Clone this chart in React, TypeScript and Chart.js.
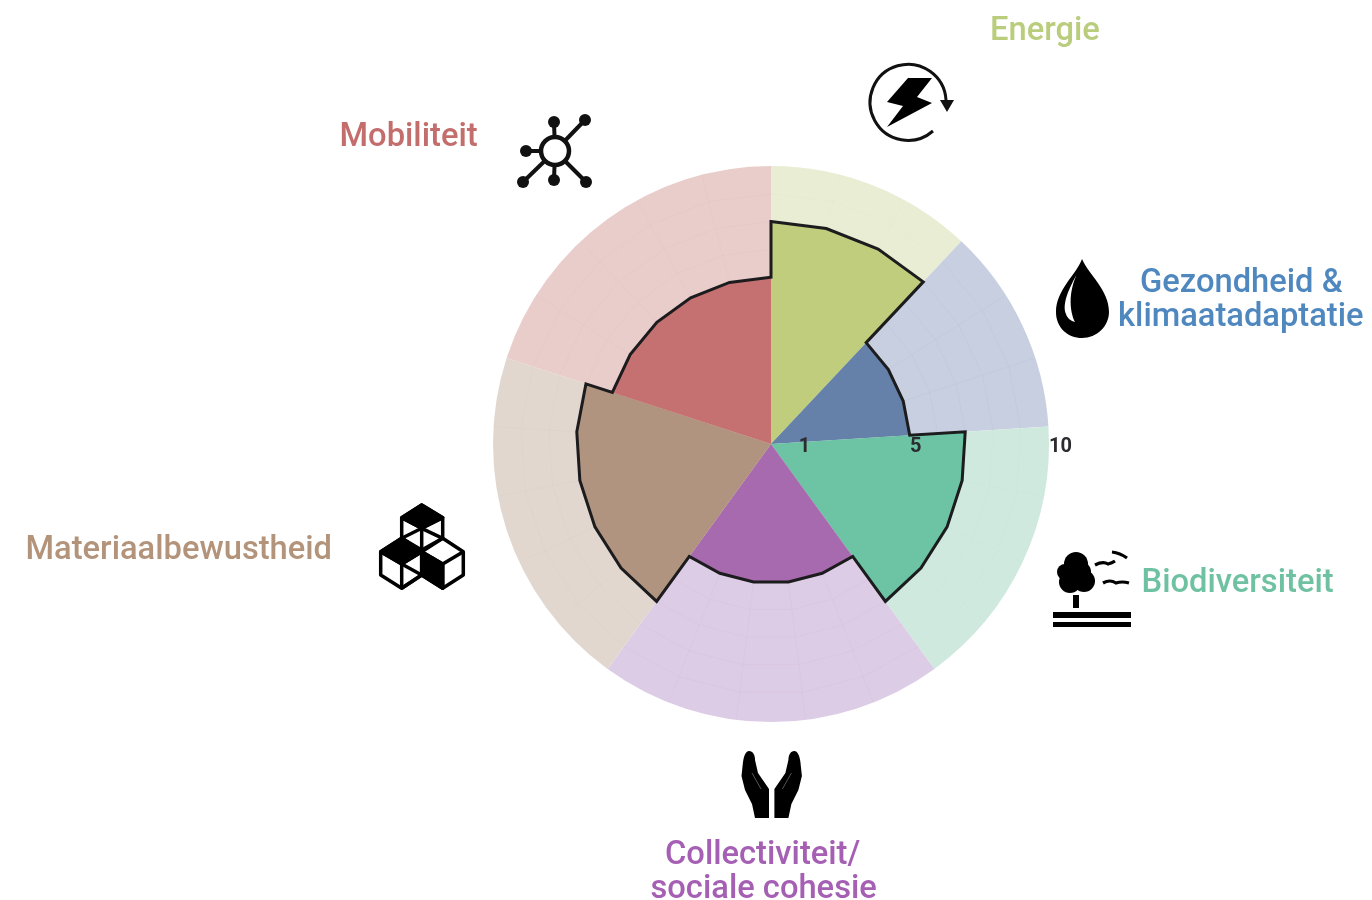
import React, { useEffect, useRef } from "react";
import { Chart, registerables } from "chart.js";

Chart.register(...registerables);

const categories = ["Energie", "Gezondheid & klimaatadaptatie", "Biodiversiteit", "Collectiviteit/sociale cohesie", "Materiaalbewustheid", "Mobiliteit"];
const scores = [8, 5, 7, 5, 7, 6];
const fullScores = [10, 10, 10, 10, 10, 10];
const sectorAngles = [43.2, 43.2, 57.6, 72, 72, 72];
const sectorFacets = [3, 3, 4, 5, 5, 5];
const scoreColors = ["#bfcd7c", "#6581aa", "#6cc4a4", "#a76aae", "#b1947f", "#c67171"];
const paleColors = ["#e9edd3", "#c7cfe0", "#d0e9df", "#ddcce5", "#e1d7cf", "#e9cdcb"];
const ringValues = [1, 2, 3, 4, 5, 6, 7, 8, 9];
const tickLabels = [1, 5, 10];

const labelLines = [
  { text: "Energie", color: "#b9cd7d", x: 990, y: 39.5 },
  { text: "Gezondheid &", color: "#4f87bf", x: 1140, y: 292 },
  { text: "klimaatadaptatie", color: "#4f87bf", x: 1118, y: 326 },
  { text: "Biodiversiteit", color: "#6fc2a1", x: 1141.5, y: 591.5 },
  { text: "Collectiviteit/", color: "#a560b4", x: 665, y: 863.5 },
  { text: "sociale cohesie", color: "#a560b4", x: 650.5, y: 897.5 },
  { text: "Materiaalbewustheid", color: "#b3947b", x: 25.5, y: 559 },
  { text: "Mobiliteit", color: "#c46d6d", x: 339.5, y: 146 },
];

const pt = (cx: number, cy: number, r: number, a: number) => [cx + r * Math.cos(a), cy + r * Math.sin(a)];

const facetPlugin = {
  id: "facets",
  beforeDatasetDraw(chart: any, args: any) {
    if (args.index !== 0) return;
    const { ctx } = chart;
    const scale = chart.scales.r;
    const els = args.meta.data;
    // faint faceted web on the pale sectors
    ctx.save();
    ctx.lineWidth = 1;
    els.forEach((el: any, i: number) => {
      const n = sectorFacets[i];
      const step = (el.endAngle - el.startAngle) / n;
      ctx.strokeStyle = scoreColors[i] + "0d";
      ctx.beginPath();
      ringValues.forEach((v) => {
        const r = scale.getDistanceFromCenterForValue(v);
        for (let k = 0; k <= n; k++) {
          const [x, y] = pt(el.x, el.y, r, el.startAngle + k * step);
          k === 0 ? ctx.moveTo(x, y) : ctx.lineTo(x, y);
        }
      });
      for (let k = 1; k < n; k++) {
        const a = el.startAngle + k * step;
        const [x0, y0] = pt(el.x, el.y, 0, a);
        const [x1, y1] = pt(el.x, el.y, scale.getDistanceFromCenterForValue(10), a);
        ctx.moveTo(x0, y0);
        ctx.lineTo(x1, y1);
      }
      ctx.stroke();
    });
    ctx.restore();
    // clip the score sectors to their faceted silhouette
    ctx.save();
    ctx.beginPath();
    tracePolygon(ctx, els);
    ctx.clip();
  },
  afterDatasetDraw(chart: any, args: any) {
    if (args.index !== 0) return;
    const { ctx } = chart;
    ctx.restore();
    ctx.save();
    ctx.beginPath();
    tracePolygon(ctx, args.meta.data);
    ctx.lineWidth = 3;
    ctx.lineJoin = "miter";
    ctx.strokeStyle = "#1c1c1e";
    ctx.stroke();
    ctx.restore();
  },
  afterDraw(chart: any) {
    const { ctx } = chart;
    const scale = chart.scales.r;
    ctx.save();
    ctx.textBaseline = "alphabetic";
    ctx.textAlign = "left";
    ctx.font = "500 32.7px Roboto";
    labelLines.forEach((l) => {
      ctx.fillStyle = l.color;
      ctx.fillText(l.text, l.x, l.y);
    });
    ctx.font = "700 20px Roboto";
    ctx.fillStyle = "#2c2c30";
    tickLabels.forEach((v) => {
      ctx.fillText(String(v), scale.xCenter + scale.getDistanceFromCenterForValue(v), 452);
    });
    ctx.restore();
  },
};

function tracePolygon(ctx: any, els: any[]) {
  els.forEach((el: any, i: number) => {
    const n = sectorFacets[i];
    const step = (el.endAngle - el.startAngle) / n;
    for (let k = 0; k <= n; k++) {
      const [x, y] = pt(el.x, el.y, el.outerRadius, el.startAngle + k * step);
      i === 0 && k === 0 ? ctx.moveTo(x, y) : ctx.lineTo(x, y);
    }
  });
  ctx.closePath();
}

function Icons() {
  return (
    <svg width={1372} height={900} style={{ position: "absolute", left: 0, top: 0, pointerEvents: "none" }}>
      {/* energy */}
      <path d="M933 131 A38 38 0 1 1 946 100" fill="none" stroke="#111" strokeWidth={3} />
      <polygon points="940,100 954,100 947,112" fill="#111" />
      <polygon points="908,78 932,78 917,97 932,103 887,127 903,106 887,102" fill="#000" />
      {/* network */}
      <g stroke="#111" strokeWidth={4}>
        <line x1={555} y1={151} x2={554} y2={122} />
        <line x1={555} y1={151} x2={585} y2={120} />
        <line x1={555} y1={151} x2={526} y2={151} />
        <line x1={555} y1={151} x2={523} y2={182} />
        <line x1={555} y1={151} x2={554} y2={180} />
        <line x1={555} y1={151} x2={586} y2={182} />
      </g>
      <circle cx={555} cy={151} r={14} fill="#fff" stroke="#111" strokeWidth={4.5} />
      {[[554, 122], [585, 120], [526, 151], [523, 182], [554, 180], [586, 182]].map(([x, y], i) => (
        <circle key={i} cx={x} cy={y} r={6} fill="#111" />
      ))}
      {/* drop */}
      <path d="M1082 259 C1076 275 1056 290 1056 312 C1056 328 1068 338 1082 338 C1097 338 1109 326 1109 312 C1109 290 1089 275 1082 259Z" fill="#000" />
      <path d="M1076.5 275 C1068 290 1062 305 1066 314 C1067 318 1071 321 1075 322 C1070 312 1068 294 1076.5 275Z" fill="#fff" />
      {/* tree */}
      <g fill="#000">
        <circle cx={1076} cy={564} r={12} />
        <circle cx={1065} cy={572} r={8} />
        <circle cx={1084} cy={581} r={11} />
        <circle cx={1070} cy={582} r={11} />
        <circle cx={1080} cy={572} r={11} />
        <rect x={1073} y={595} width={6} height={13} />
        <rect x={1053} y={612} width={78} height={6} />
        <rect x={1053} y={622} width={78} height={5} />
      </g>
      <g fill="none" stroke="#000" strokeWidth={3.2}>
        <path d="M1095 565 Q1103 561 1108 564 Q1112 563 1115 561" />
        <path d="M1112 552 Q1120 553 1127 558" />
        <path d="M1103 583 Q1110 579 1116 583 Q1122 581 1129 583" />
      </g>
      {/* hands */}
      {[0, 1].map((m) => (
        <g key={m} transform={m ? "translate(1543.4 0) scale(-1 1)" : undefined}>
          <path d="M749 751 C753 751 755 755 755 760 L758 773 L769 789 L769 818 L755 818 L752 804 L745 790 L741.5 776 L743 762 C744 755 746 751 749 751Z" fill="#000" />
          <path d="M752 773 L761 789" stroke="#555" strokeWidth={1} fill="none" />
        </g>
      ))}
      {/* cubes */}
      <g fill="none" stroke="#000" strokeWidth={3.5} strokeLinejoin="round">
        <polygon points="421.7,505 442.7,517.7 421.7,528.3 401.7,517.7" fill="#000" />
        <polygon points="401.7,538.3 421.7,551.7 401.7,564 380.7,551.7" fill="#000" />
        <polygon points="421.7,551.7 442.7,564 442.7,588.3 421.7,575" fill="#000" />
        <polygon points="421.7,505 442.7,517.7 442.7,538.3 421.7,550 401.7,538.3 401.7,517.7" />
        <polyline points="401.7,517.7 421.7,528.3 442.7,517.7" />
        <line x1={421.7} y1={528.3} x2={421.7} y2={551} />
        <line x1={401.7} y1={538.3} x2={421.7} y2={528.3} />
        <line x1={442.7} y1={538.3} x2={421.7} y2={528.3} />
        <polygon points="401.7,538.3 421.7,551.7 421.7,575 401.7,588.3 380.7,575 380.7,551.7" />
        <polyline points="380.7,551.7 401.7,564 421.7,551.7" />
        <line x1={401.7} y1={564} x2={401.7} y2={588.3} />
        <line x1={401.7} y1={564} x2={421.7} y2={575} />
        <line x1={421.7} y1={575} x2={401.7} y2={588.3} />
        <polygon points="442.7,538.3 463.3,551.7 463.3,575 442.7,588.3 421.7,575 421.7,551.7" />
        <polyline points="421.7,551.7 442.7,564 463.3,551.7" />
        <line x1={442.7} y1={564} x2={442.7} y2={588.3} />
      </g>
    </svg>
  );
}

export default function App() {
  const ref = useRef<HTMLCanvasElement | null>(null);
  useEffect(() => {
    document.body.style.margin = "0";
    const chart = new Chart(ref.current as HTMLCanvasElement, {
      type: "polarArea",
      data: {
        labels: categories,
        datasets: [
          { data: scores, backgroundColor: scoreColors, borderWidth: 0, angle: (c: any) => sectorAngles[c.dataIndex] } as any,
          { data: fullScores, backgroundColor: paleColors, borderWidth: 0, angle: (c: any) => sectorAngles[c.dataIndex] } as any,
        ],
      },
      options: {
        responsive: false,
        animation: false,
        layout: { padding: { left: 493, right: 323, top: 166, bottom: 178 } },
        plugins: { legend: { display: false }, tooltip: { enabled: false } },
        scales: {
          r: {
            min: 0,
            max: 10,
            grid: { display: false },
            angleLines: { display: false },
            ticks: { display: false },
            pointLabels: { display: false },
          },
        },
      } as any,
      plugins: [facetPlugin],
    });
    return () => chart.destroy();
  }, []);
  return (
    <div style={{ position: "absolute", left: 0, top: 0, width: 1372, height: 900, overflow: "hidden", filter: "blur(0.7px)" }}>
      <canvas ref={ref} width={1372} height={900} style={{ display: "block" }} />
      <Icons />
    </div>
  );
}
